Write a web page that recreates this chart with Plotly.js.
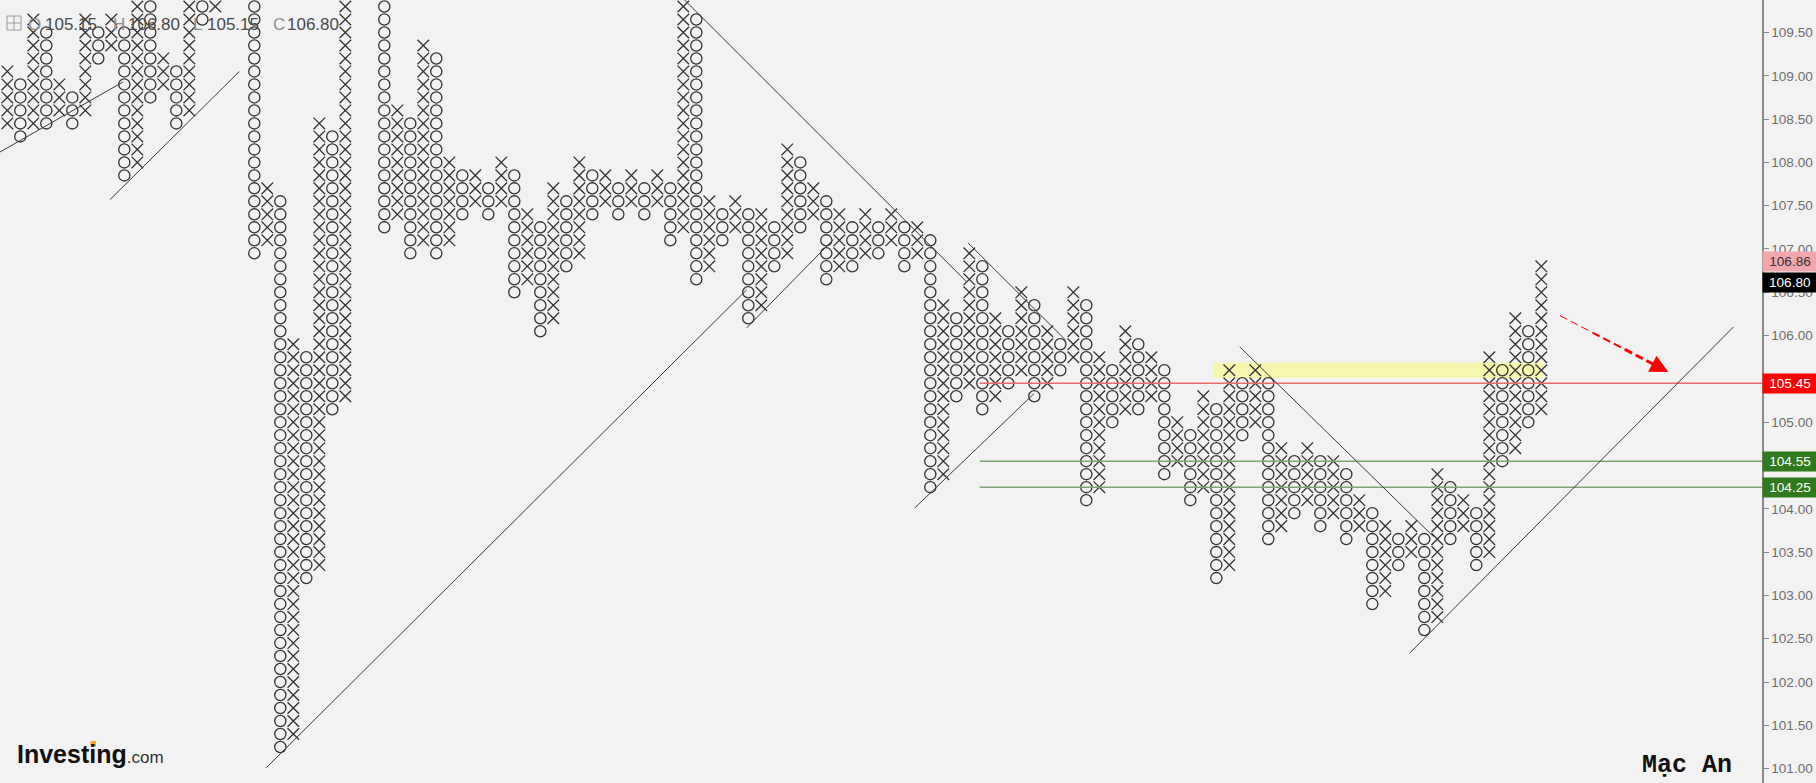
<!DOCTYPE html>
<html><head><meta charset="utf-8">
<script src="https://cdn.plot.ly/plotly-3.0.1.min.js"></script>
<style>html,body{margin:0;padding:0;background:#f2f2f2;}#chart{width:1816px;height:783px;}</style>
</head><body><div id="chart"></div>
<script>
// ---- Point & Figure data (box size 0.15, 3-box reversal) ----
const BOX = 0.15;
const colTypes = ['X','O','X','O','X','O','X','O','X','O','X','O','X','O','X','O','X','O','X','O',
  'X','O','X','O','X','O','X','O','X','O','X','O','X','O','X','O','X','O','X','O',
  'X','O','X','O','X','O','X','O','X','O','X','O','X','O','X','O','X','O','X','O',
  'X','O','X','O','X','O','X','O','X','O','X','O','X','O','X','O','X','O','X','O',
  'X','O','X','O','X','O','X','O','X','O','X','O','X','O','X','O','X','O','X','O',
  'X','O','X','O','X','O','X','O','X','O','X','O','X','O','X','O','X','O','X'];
const colLows = [108.45,108.30,108.45,108.45,108.60,108.45,108.60,109.20,109.35,107.85,
  108.00,108.75,108.90,108.45,108.60,109.65,109.80,109.95,110.10,106.95,
  107.10,101.25,101.40,103.20,103.35,105.15,105.30,110.10,110.25,107.25,
  107.40,106.95,107.10,106.95,107.10,107.40,107.55,107.40,107.55,106.50,
  106.65,106.05,106.20,106.80,106.95,107.40,107.55,107.40,107.55,107.40,
  107.55,107.10,107.25,106.65,106.80,107.10,107.25,106.20,106.35,106.80,
  106.95,107.25,107.40,106.65,106.80,106.80,106.95,106.95,107.10,106.80,
  106.95,104.25,104.40,105.30,105.45,105.15,105.30,105.45,105.60,105.30,
  105.45,105.60,105.75,104.10,104.25,105.00,105.15,105.15,105.30,104.40,
  104.55,104.10,104.25,103.20,103.35,104.85,105.00,103.65,103.80,103.95,
  104.10,103.80,103.95,103.65,103.80,102.90,103.05,103.35,103.50,102.60,
  102.75,103.65,103.80,103.35,103.50,104.55,104.70,105.00,105.15];
const colHighs = [109.05,108.90,109.65,109.50,108.90,108.75,109.65,109.50,109.65,109.50,
  109.95,109.80,109.20,109.05,109.95,109.80,110.40,110.25,110.70,110.55,
  107.70,107.55,105.90,105.75,108.45,108.30,110.55,110.40,110.70,110.55,
  108.60,108.45,109.35,109.20,108.00,107.85,107.85,107.70,108.00,107.85,
  107.40,107.25,107.70,107.55,108.00,107.85,107.85,107.70,107.85,107.70,
  107.85,107.70,109.80,109.65,107.55,107.40,107.55,107.40,107.40,107.25,
  108.15,108.00,107.70,107.55,107.40,107.25,107.40,107.25,107.40,107.25,
  107.25,107.10,106.35,106.20,106.95,106.80,106.20,106.05,106.50,106.35,
  106.05,105.90,106.50,106.35,105.75,105.60,106.05,105.90,105.75,105.60,
  105.00,104.85,105.30,105.15,105.60,105.45,105.60,105.45,104.70,104.55,
  104.70,104.55,104.55,104.40,104.10,103.95,103.80,103.65,103.80,103.65,
  104.40,104.25,104.10,103.95,105.75,105.60,106.20,106.05,106.80];

// axis ticks
const tickValues = [101.0,101.5,102.0,102.5,103.0,103.5,104.0,104.5,105.0,105.5,106.0,106.5,107.0,107.5,108.0,108.5,109.0,109.5];
const tickLabels = ['101.00','101.50','102.00','102.50','103.00','103.50','104.00','104.50','105.00','105.50','106.00','106.50','107.00','107.50','108.00','108.50','109.00','109.50'];

// price tags on the axis
const tagTexts  = ['106.86','106.80','105.45','104.55','104.25'];
const tagLevels = [106.86, 106.613, 105.45, 104.55, 104.25];
const tagBg     = ['#f2a7ae','#000000','#ff0000','#2f7a1c','#2f7a1c'];
const tagFg     = ['#333333','#ffffff','#ffffff','#ffffff','#ffffff'];

// horizontal levels
const hLevels = [105.45, 104.55, 104.25];
const hColors = ['#f06a6a','#7fa474','#7fa474'];
const hStartCol = 74.8;

// highlighted zone
const zoneCols = [92.8, 118.15];
const zonePrices = [105.51, 105.69];

// trend lines (column index, price)
const trendX0 = [-0.56, 7.9, 19.92, 56.88, 51.6, 73.9, 69.8, 94.8, 107.85];
const trendY0 = [108.12, 107.57, 101.01, 106.09, 109.95, 107.07, 104.01, 105.87, 102.33];
const trendX1 = [8.92, 17.85, 56.88, 63.54, 73.8, 81.4, 78.98, 109.7, 132.78];
const trendY1 = [108.93, 109.05, 106.53, 107.11, 106.62, 105.95, 105.33, 103.68, 106.10];

// red projection arrow
const arrowFrom = [119.44, 106.23];
const arrowTo = [127.77, 105.58];

// header values
const headerKeys = ['O','H','L','C'];
const headerVals = ['105.15','106.80','105.15','106.80'];

// ---- build ----
const W = 1816, H = 783, R = 54, PW = W - R;
const xs = {X:[],O:[]}, ys = {X:[],O:[]};
colTypes.forEach((t,i)=>{
  const lo = Math.round(colLows[i]/BOX), hi = Math.round(colHighs[i]/BOX);
  for(let k=lo;k<=hi;k++){ xs[t].push(i); ys[t].push(+(k*BOX).toFixed(2)); }
});
const traces = [
  {type:'scatter',mode:'markers',x:xs.X,y:ys.X,hoverinfo:'skip',cliponaxis:true,
   marker:{symbol:'x-thin-open',size:11.6,color:'#333',line:{width:1.3,color:'#333'}}},
  {type:'scatter',mode:'markers',x:xs.O,y:ys.O,hoverinfo:'skip',cliponaxis:true,
   marker:{symbol:'circle-open',size:11.2,color:'#333',line:{width:1.3,color:'#333'}}}
];

const px = x => x/PW, py = y => 1 - y/H;
const xr = [-0.562, -0.562 + PW/13];
const shapes = [];
shapes.push({type:'rect',xref:'x',yref:'y',x0:zoneCols[0],x1:zoneCols[1],y0:zonePrices[0],y1:zonePrices[1],
  fillcolor:'rgba(255,255,40,0.33)',line:{width:0},layer:'below'});
hLevels.forEach((v,i)=>shapes.push({type:'line',xref:'x',yref:'y',x0:hStartCol,x1:xr[1],y0:v,y1:v,
  line:{color:hColors[i],width:1.5}}));
trendX0.forEach((x0,i)=>shapes.push({type:'line',xref:'x',yref:'y',x0:x0,y0:trendY0[i],x1:trendX1[i],y1:trendY1[i],
  line:{color:'#3a3a3a',width:1}}));
// tapered dashed arrow
const seg = [[0,0.3,1],[0.3,0.6,2],[0.6,0.86,3]];
seg.forEach(s=>{
  const a=s[0], b=s[1];
  shapes.push({type:'line',xref:'x',yref:'y',
    x0:arrowFrom[0]+(arrowTo[0]-arrowFrom[0])*a, y0:arrowFrom[1]+(arrowTo[1]-arrowFrom[1])*a,
    x1:arrowFrom[0]+(arrowTo[0]-arrowFrom[0])*b, y1:arrowFrom[1]+(arrowTo[1]-arrowFrom[1])*b,
    line:{color:'#ff0000',width:s[2],dash:'8px,4px'}});
});
// header icon
shapes.push({type:'rect',xref:'paper',yref:'paper',x0:px(7),x1:px(21),y0:py(16),y1:py(30),line:{color:'#9a9a9a',width:1},fillcolor:'rgba(0,0,0,0)'});
shapes.push({type:'line',xref:'paper',yref:'paper',x0:px(14),x1:px(14),y0:py(16),y1:py(30),line:{color:'#9a9a9a',width:1}});
shapes.push({type:'line',xref:'paper',yref:'paper',x0:px(7),x1:px(21),y0:py(23),y1:py(23),line:{color:'#9a9a9a',width:1}});
// orange dot of the logo
shapes.push({type:'rect',xref:'paper',yref:'paper',x0:px(90.5),x1:px(96),y0:py(741),y1:py(746.5),fillcolor:'#f5a623',line:{width:0}});

const annotations = [];
const FONT = 'Liberation Sans, Arial, sans-serif';
tagTexts.forEach((t,i)=>annotations.push({xref:'paper',yref:'y',x:1,xanchor:'left',y:tagLevels[i],yanchor:'middle',
  text:t,showarrow:false,bgcolor:tagBg[i],width:54,height:19,borderpad:0,align:'center',
  font:{family:FONT,size:13.6,color:tagFg[i]}}));
annotations.push({xref:'x',yref:'y',axref:'x',ayref:'y',
  x:arrowTo[0],y:arrowTo[1],
  ax:arrowFrom[0]+(arrowTo[0]-arrowFrom[0])*0.86, ay:arrowFrom[1]+(arrowTo[1]-arrowFrom[1])*0.86,
  showarrow:true,arrowhead:2,arrowsize:1.2,arrowwidth:3,arrowcolor:'#ff0000',text:''});
const keyX = [28,113,193,273], valX = [45,128,207,287];
headerKeys.forEach((k,i)=>{
  annotations.push({xref:'paper',yref:'paper',x:px(keyX[i]-2),y:py(24),xanchor:'left',yanchor:'middle',showarrow:false,
    text:k,font:{family:FONT,size:17,color:'#8f8f8f'}});
  annotations.push({xref:'paper',yref:'paper',x:px(valX[i]-2),y:py(24),xanchor:'left',yanchor:'middle',showarrow:false,
    text:headerVals[i],font:{family:FONT,size:17,color:'#4a4a4a'}});
});
annotations.push({xref:'paper',yref:'paper',x:px(15),y:py(754),xanchor:'left',yanchor:'middle',showarrow:false,
  text:'<b>Investing</b><span style="font-size:17px;color:#333">.com</span>',font:{family:FONT,size:25,color:'#111'}});
annotations.push({xref:'paper',yref:'paper',x:px(1640),y:py(765),xanchor:'left',yanchor:'middle',showarrow:false,
  text:'<b>Mạc An</b>',font:{family:'Liberation Mono, Courier New, monospace',size:25,color:'#111'}});

const layout = {
  width:W,height:H,margin:{l:0,r:R,t:0,b:0,pad:0},
  paper_bgcolor:'#f2f2f2',plot_bgcolor:'#f2f2f2',showlegend:false,
  xaxis:{range:xr,visible:false,fixedrange:true},
  yaxis:{side:'right',range:[100.834,109.875],tickvals:tickValues,ticktext:tickLabels,ticks:'outside',ticklen:5,
    tickcolor:'#8a8a8a',tickwidth:1,showline:true,linecolor:'#8a8a8a',linewidth:1.5,showgrid:false,zeroline:false,
    tickfont:{family:FONT,size:13.6,color:'#6e6e6e'}},
  shapes:shapes,annotations:annotations
};
Plotly.newPlot('chart',traces,layout,{displayModeBar:false,staticPlot:true});
</script></body></html>
